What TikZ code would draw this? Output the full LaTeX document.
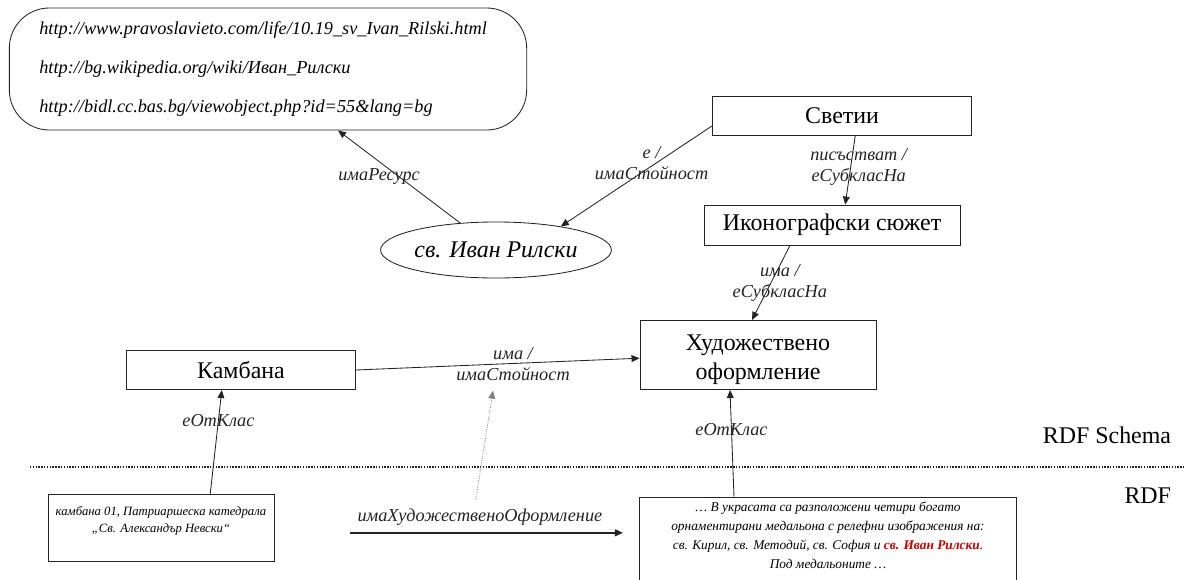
\documentclass[tikz,border=0pt]{standalone}
\usepackage{fontspec}
\setmainfont{Liberation Serif}
\usepackage{xcolor}
\definecolor{rsRed}{RGB}{192,0,0}
\definecolor{rsLine}{RGB}{35,35,35}
\usetikzlibrary{positioning,arrows.meta,shapes.geometric}

\begin{document}
\begin{tikzpicture}[x=0.025cm,y=-0.025cm,
  cls/.style={draw=rsLine,semithick,align=center,font=\fontsize{17}{21}\selectfont,inner sep=2pt},
  inst/.style={draw=rsLine,semithick,inner sep=0pt},
  itxt/.style={font=\itshape\fontsize{9.5}{13.5}\selectfont,align=center,inner sep=0pt},
  lbl/.style={font=\itshape\fontsize{13}{15}\selectfont,align=center,inner sep=1pt},
  a/.style={-{Triangle[length=2mm,width=1.7mm]},rsLine,line width=0.6pt}]
  \useasboundingbox (0,0) rectangle (1184,579);
  % RDF Schema
  \node[draw=rsLine,semithick,rounded corners=1cm,minimum width=12.93cm,minimum height=3.05cm,
    inner xsep=0.75cm,text width=11.43cm,align=left,font=\itshape\fontsize{13}{27.7}\selectfont] (urls) at (268,69)
    {http://www.pravoslavieto.com/life/10.19\_sv\_Ivan\_Rilski.html\\
     http://bg.wikipedia.org/wiki/Иван\_Рилски\\
     http://bidl.cc.bas.bg/viewobject.php?id=55\&lang=bg};
  \node[ellipse,draw=rsLine,semithick,minimum width=5.68cm,minimum height=1.4cm,inner sep=0pt,
    font=\itshape\fontsize{17}{20}\selectfont] (saint) at (496,250) {св. Иван Рилски};
  \node[cls,minimum width=6.48cm,minimum height=0.98cm] (saints) at (842,116) {Светии};
  \node[cls,minimum width=6.4cm,minimum height=1cm] (icon) at (832,225) {Иконографски сюжет};
  \node[cls,minimum width=5.9cm,minimum height=1.73cm] (art) at (758,355)
    {\raisebox{-3.5pt}[\height][\depth]{Художествено}\\\raisebox{-3.5pt}[\height][\depth]{оформление}};
  \node[cls,minimum width=5.73cm,minimum height=0.98cm] (bell) at (241,370) {Камбана};
  % RDF
  \node[inst,minimum width=5.65cm,minimum height=1.68cm,
    label={[itxt,anchor=north,yshift=-0.3cm,font=\itshape\fontsize{9}{12.5}\selectfont]north:камбана 01, Патриаршеска катедрала\\„Св. Александър Невски“}]
    (bell01) at (161,528) {};
  \node[inst,minimum width=9.43cm,minimum height=2.5cm,
    label={[itxt,anchor=north,yshift=-0.13cm]north:… В украсата са разположени четири богато\\
      орнаментирани медальона с релефни изображения на:\\
      св. Кирил, св. Методий, св. София и {\bfseries\color{rsRed}св. Иван Рилски}.\\
      Под медальоните …}]
    (desc) at (828,547) {};
  \node[font=\fontsize{17}{20}\selectfont,anchor=east] (schema) at (1176,435) {RDF Schema};
  \node[font=\fontsize{17}{20}\selectfont,anchor=east] (rdf) at (1176,496) {RDF};
  \draw[rsLine,densely dotted,line width=1pt] (30,467) -- (1184,467);

  \draw[a] (saint.143) -- node[lbl,pos=0.5,xshift=-0.5cm] {имаРесурс} ([xshift=1.75cm]urls.south);
  \draw[a] ([yshift=-0.25cm]saints.west) -- node[lbl,pos=0.5,xshift=0.38cm,yshift=0.32cm] {е /\\имаСтойност} (saint.20);
  \draw[a] ([xshift=0.33cm]saints.south) -- node[lbl,pos=0.45,xshift=0.2cm] {писъстват /\\еСубкласНа} ([xshift=0.33cm]icon.north);
  \draw[a] ([xshift=-1.05cm]icon.south) -- node[lbl,pos=0.5,xshift=0.22cm] {има /\\еСубкласНа} ([xshift=-0.15cm]art.north);
  \draw[a] (bell.east) -- node[lbl,pos=0.5,xshift=0.38cm] (hasval) {има /\\имаСтойност} ([yshift=-0.08cm]art.west);
  \draw[a] ([xshift=1.23cm]bell01.north) -- node[lbl,pos=0.71] {еОтКлас} ([xshift=-0.48cm]bell.south);
  \draw[a] ([xshift=-2.35cm]desc.north) -- node[lbl,pos=0.63] {еОтКлас} ([xshift=-0.7cm]art.south);
  \draw[a,line width=1.2pt,shorten <=1.9cm,shorten >=0.4cm] ([yshift=-0.12cm]bell01.east)
    -- node[lbl,pos=0.5,above=0.12cm,xshift=0.58cm] (hasart) {имаХудожественоОформление}
    ([yshift=-0.12cm]bell01.east -| desc.west);
  \draw[a,gray,densely dotted] ([xshift=-0.1cm,yshift=0.2cm]hasart.north) -- ([xshift=-0.5cm,yshift=-0.2cm]hasval.south);
\end{tikzpicture}
\end{document}
